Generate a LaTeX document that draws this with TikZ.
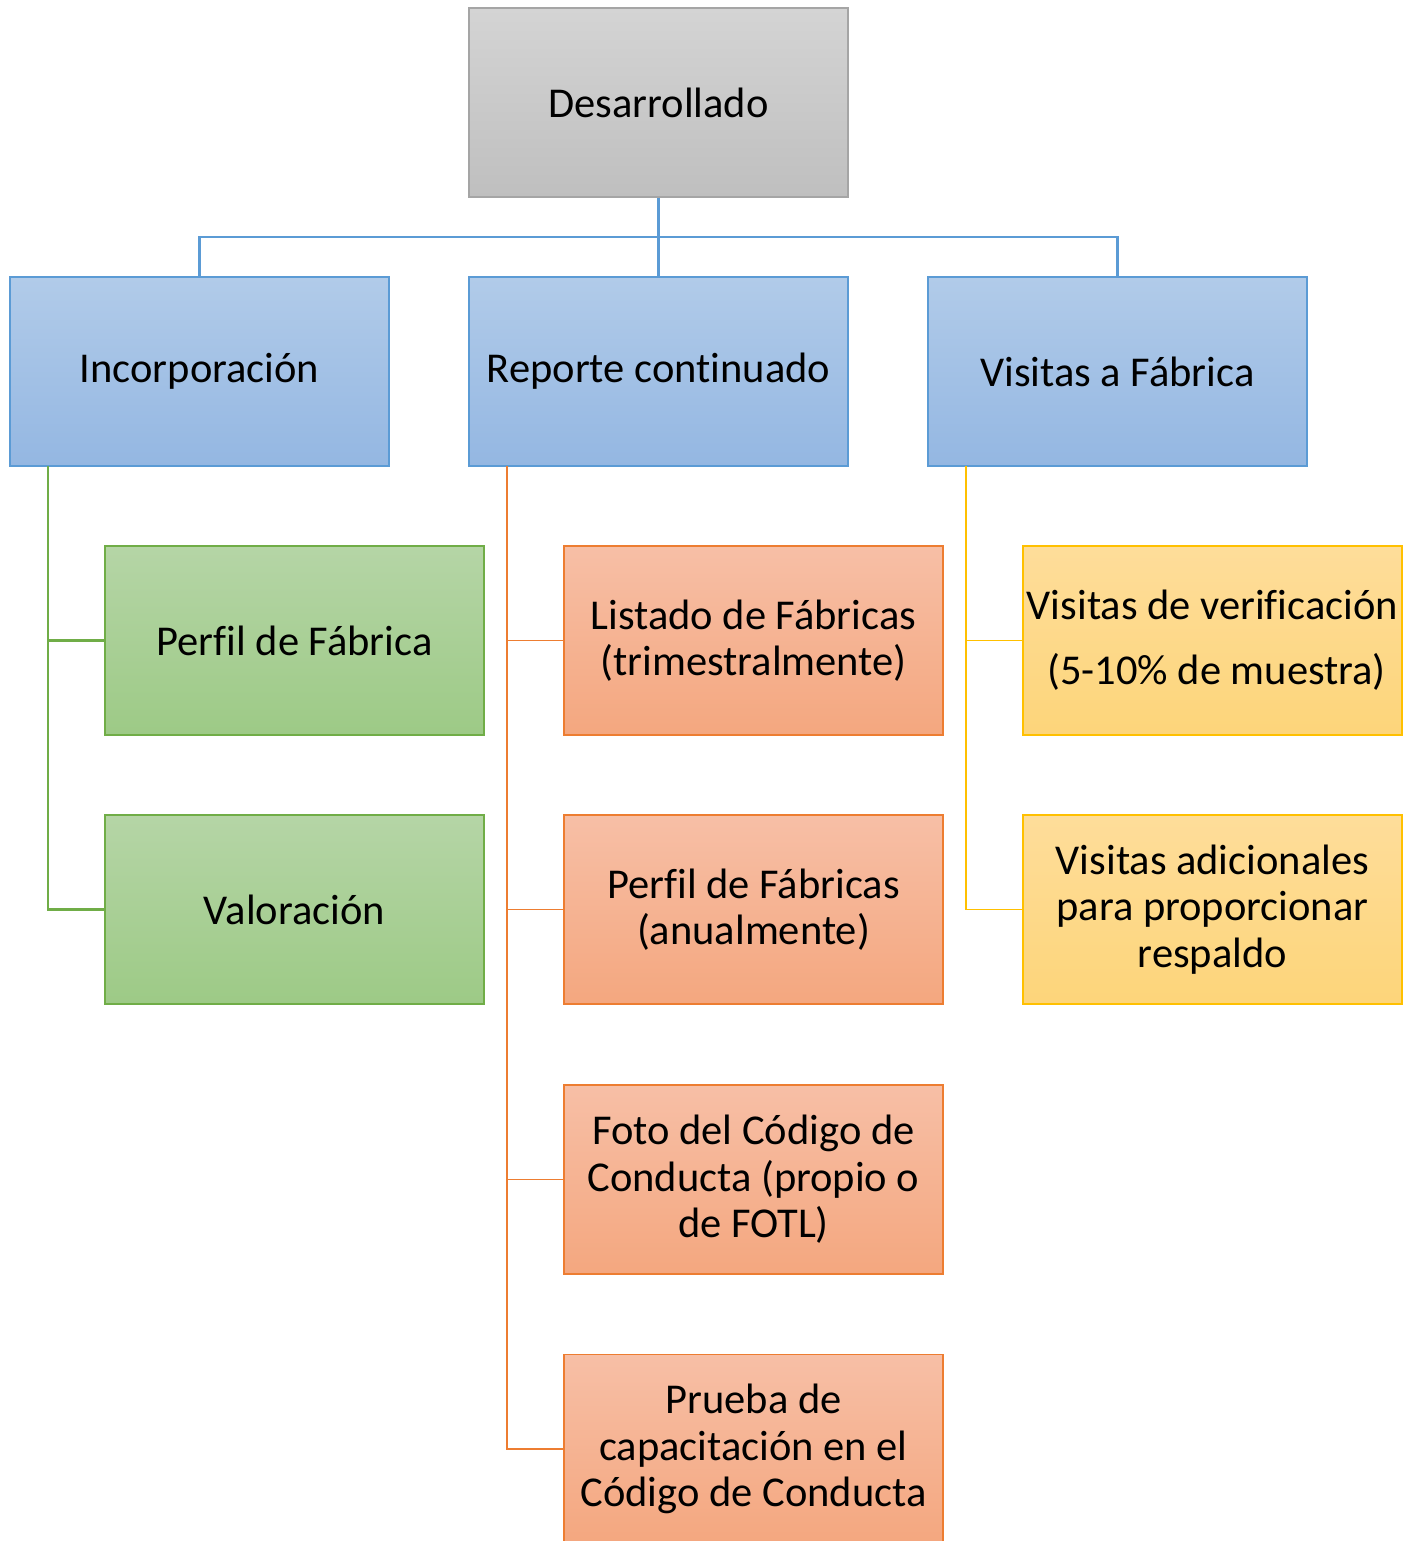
\documentclass[tikz,border=0pt]{standalone}
\usepackage{fontspec}
\setmainfont{Carlito}[Ligatures={NoCommon}]
\begin{document}
\begin{tikzpicture}[x=1pt,y=-1pt,
  box/.style={rectangle,minimum width=379pt,minimum height=189pt,inner sep=0pt,
    align=center,line width=1.3pt,font=\fontsize{42.5}{46.5}\selectfont},
  graybox/.style={box,draw={rgb,255:red,165;green,165;blue,165},
    top color={rgb,255:red,212;green,212;blue,212},bottom color={rgb,255:red,191;green,191;blue,191}},
  bluebox/.style={box,draw={rgb,255:red,91;green,155;blue,213},
    top color={rgb,255:red,177;green,203;blue,233},bottom color={rgb,255:red,148;green,183;blue,226}},
  greenbox/.style={box,draw={rgb,255:red,112;green,173;blue,71},
    top color={rgb,255:red,181;green,213;blue,166},bottom color={rgb,255:red,157;green,202;blue,134}},
  orangebox/.style={box,draw={rgb,255:red,237;green,125;blue,49},
    top color={rgb,255:red,247;green,191;blue,166},bottom color={rgb,255:red,244;green,167;blue,127}},
  yellowbox/.style={box,draw={rgb,255:red,255;green,192;blue,0},
    top color={rgb,255:red,254;green,221;blue,154},bottom color={rgb,255:red,253;green,213;blue,122}},
  blueline/.style={draw={rgb,255:red,91;green,155;blue,213},line width=2.5pt},
  greenline/.style={draw={rgb,255:red,112;green,173;blue,71},line width=2.5pt},
  orangeline/.style={draw={rgb,255:red,237;green,125;blue,49},line width=1.3pt},
  yellowline/.style={draw={rgb,255:red,255;green,192;blue,0},line width=1.3pt}
]
\useasboundingbox (0,0) rectangle (1413,1541);
\clip (0,0) rectangle (1413,1541);

\node[graybox] (D) at (658.5,102.5) {Desarrollado};
\node[bluebox] (I) at (199.5,371.5) {Incorporación};
\node[bluebox] (R) at (658.5,371.5) {Reporte continuado};
\node[bluebox] (V) at (1117.5,371.5) {Visitas a Fábrica};

\node[greenbox] (G1) at (294.5,640.5) {Perfil de Fábrica};
\node[greenbox] (G2) at (294.5,909.5) {Valoración};

\node[orangebox] (O1) at (753.5,640.5) {Listado de Fábricas\\(trimestralmente)};
\node[orangebox] (O2) at (753.5,909.5) {Perfil de Fábricas\\(anualmente)};
\node[orangebox] (O3) at (753.5,1179.5) {Foto del Código de\\Conducta (propio o\\de FOTL)};
\node[orangebox] (O4) at (753.5,1449) {Prueba de\\capacitación en el\\Código de Conducta};

\node[yellowbox] (Y1) at (1212.5,640.5) {Visitas de verificación\\[18.5pt] \hspace{8pt}(5-10\% de muestra)};
\node[yellowbox] (Y2) at (1212.5,909.5) {Visitas adicionales\\para proporcionar\\respaldo};

% blue connectors
\coordinate (bus) at (658.5,237);
\draw[blueline] (D.south) -- (bus);
\draw[blueline] (I.north) |- (bus) -| (V.north);
\draw[blueline] (bus) -- (R.north);

% green connectors
\coordinate (gt) at (48,466);
\draw[greenline] (gt) |- (G1.west);
\draw[greenline] (gt) |- (G2.west);

% orange connectors
\coordinate (ot) at (507,466);
\draw[orangeline] (ot) |- (O1.west);
\draw[orangeline] (ot) |- (O2.west);
\draw[orangeline] (ot) |- (O3.west);
\draw[orangeline] (ot) |- (O4.west);

% yellow connectors
\coordinate (yt) at (966,466);
\draw[yellowline] (yt) |- (Y1.west);
\draw[yellowline] (yt) |- (Y2.west);
\end{tikzpicture}
\end{document}
